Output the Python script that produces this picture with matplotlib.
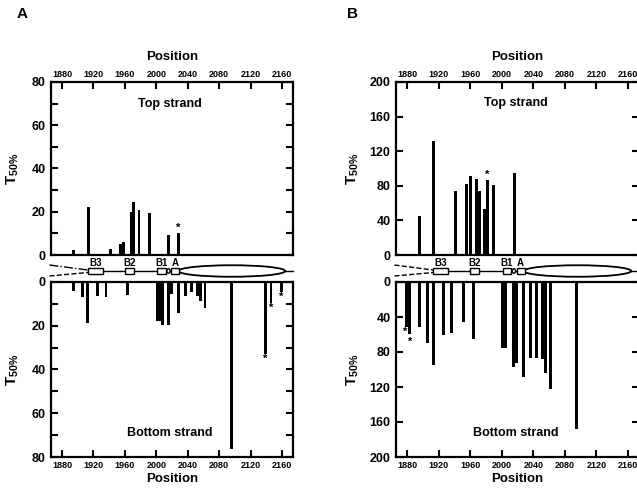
import matplotlib
matplotlib.use('Agg')
from matplotlib import pyplot as plt
from matplotlib.patches import Rectangle, Ellipse
from matplotlib.ticker import MultipleLocator

plt.rcParams['font.family'] = 'Liberation Sans'
plt.rcParams['font.weight'] = 'bold'
plt.rcParams['mathtext.fontset'] = 'custom'
plt.rcParams['mathtext.rm'] = 'Liberation Sans:bold'
plt.rcParams['mathtext.bf'] = 'Liberation Sans:bold'

# panel A, top strand
a_top_pos = [1895, 1914, 1942, 1955, 1958, 1968, 1971, 1978, 1991, 2016, 2028]
a_top_val = [2.3, 22, 3, 5, 6, 20, 24.5, 21, 19.5, 9.3, 10]
a_top_star_pos = [2028]
a_top_star_val = [12.5]

# panel A, bottom strand
a_bot_pos = [1895, 1906, 1913, 1925, 1936, 1963, 2001, 2004, 2008, 2015, 2019,
             2028, 2037, 2045, 2053, 2056, 2062, 2096, 2139, 2146, 2159]
a_bot_val = [4.3, 6.9, 18.8, 6.6, 6.9, 5.8, 17.7, 18, 19.6, 19.7, 5.5,
             14, 6.3, 4.8, 6.4, 8.8, 11.8, 76.4, 33, 9.6, 4.6]
a_bot_star_pos = [2139, 2146, 2159.5]
a_bot_star_val = [35.3, 11.9, 7.0]

# panel B, top strand
b_top_pos = [1896, 1914, 1942, 1955, 1960, 1968, 1972, 1978, 1982, 1990, 2016]
b_top_val = [45.4, 131.5, 73.5, 82, 91, 88, 74, 53.5, 86.5, 80.8, 95.2]
b_top_star_pos = [1982]
b_top_star_val = [93]

# panel B, bottom strand
b_bot_pos = [1879, 1883, 1896, 1906, 1914, 1926, 1936, 1951, 1964, 2001, 2005,
             2015, 2019, 2027, 2036, 2044, 2052, 2056, 2062, 2095]
b_bot_val = [52, 59, 52, 70, 95, 61, 58, 46, 65, 76, 76,
             97, 93, 109, 87, 87, 87.5, 104.5, 122, 168.4]
b_bot_star_pos = [1877.5, 1884]
b_bot_star_val = [57, 68]

# gene map elements (start, end, label)
boxes = [(1913, 1932, 'B3'), (1960, 1971, 'B2'), (2001, 2012, 'B1'), (2019, 2029, 'A')]
x_ticks = [1880, 1920, 1960, 2000, 2040, 2080, 2120, 2160]

W, H = 637, 490
fig = plt.figure(figsize=(W / 100, H / 100), dpi=100)


def px_axes(x0, y0, x1, y1):
    return fig.add_axes([x0 / W, 1 - y1 / H, (x1 - x0) / W, (y1 - y0) / H])


def style(ax, ymax, major, minor, top):
    ax.set_xlim(1866, 2174)
    ax.set_ylim(0, ymax)
    ax.set_xticks(x_ticks)
    ax.yaxis.set_major_locator(MultipleLocator(major))
    ax.yaxis.set_minor_locator(MultipleLocator(minor))
    for s in ax.spines.values():
        s.set_linewidth(1.6)
    ax.tick_params(axis='y', which='both', direction='in', left=True, right=True,
                   length=5, width=1.5, labelsize=9, pad=4)
    if top:
        ax.tick_params(axis='x', direction='in', top=True, bottom=False,
                       labeltop=True, labelbottom=False, length=5, width=1.5,
                       labelsize=6.5, pad=2)
        ax.xaxis.set_label_position('top')
    else:
        ax.invert_yaxis()
        ax.tick_params(axis='x', direction='in', top=False, bottom=True,
                       length=5, width=1.5, labelsize=6.5, pad=3)
    ax.set_xlabel('Position', fontsize=9.5, fontweight='bold', labelpad=7 if top else 2)
    ax.set_ylabel(r'$\mathrm{T_{50\%}}$', fontsize=11)


def bars(ax, pos, val, spos, sval):
    ax.bar(pos, val, width=3.8, color='black', linewidth=0)
    for x, y in zip(spos, sval):
        ax.text(x, y, '*', ha='center', va='center', fontsize=8, fontweight='bold')


def gene(ax, top_ls):
    ax.set_xlim(1866, 2174)
    ax.set_ylim(0, 26)
    ax.axis('off')
    ax.plot([1864, 1913], [18, 13], color='black', ls=top_ls, lw=1, clip_on=False)
    ax.plot([1864, 1913], [7, 10.5], color='black', ls='--', lw=1, clip_on=False)
    ax.plot([1913, 2174], [12, 12], color='black', lw=1, clip_on=False)
    ax.add_patch(Ellipse((2096, 12), 136, 11.5, fc='white', ec='black', lw=1.3, zorder=2))
    ax.add_patch(Ellipse((2015.5, 12), 4, 4.5, fc='white', ec='black', lw=1, zorder=3))
    for x0, x1, lab in boxes:
        ax.add_patch(Rectangle((x0, 9.2), x1 - x0, 5.6, fc='white', ec='black', lw=1, zorder=3))
        ax.text((x0 + x1) / 2, 20.5, lab, ha='center', va='center', fontsize=7, fontweight='bold')


# panel A
ax = px_axes(51, 82, 293, 255)
style(ax, 80, 20, 10, True)
bars(ax, a_top_pos, a_top_val, a_top_star_pos, a_top_star_val)
ax.text(0.49, 0.873, 'Top strand', transform=ax.transAxes, ha='center', va='center',
        fontsize=9, fontweight='bold')
ax.yaxis.set_label_coords(-0.125, 0.5)

ax = px_axes(51, 282, 293, 457)
style(ax, 80, 20, 10, False)
bars(ax, a_bot_pos, a_bot_val, a_bot_star_pos, a_bot_star_val)
ax.text(0.49, 0.139, 'Bottom strand', transform=ax.transAxes, ha='center', va='center',
        fontsize=9, fontweight='bold')
ax.yaxis.set_label_coords(-0.125, 0.5)

gene(px_axes(51, 257, 293, 283), '-.')

# panel B
ax = px_axes(396, 82, 639, 255)
style(ax, 200, 40, 40, True)
bars(ax, b_top_pos, b_top_val, b_top_star_pos, b_top_star_val)
ax.text(0.493, 0.877, 'Top strand', transform=ax.transAxes, ha='center', va='center',
        fontsize=9, fontweight='bold')
ax.yaxis.set_label_coords(-0.145, 0.5)

ax = px_axes(396, 282, 639, 457)
style(ax, 200, 40, 40, False)
bars(ax, b_bot_pos, b_bot_val, b_bot_star_pos, b_bot_star_val)
ax.text(0.493, 0.139, 'Bottom strand', transform=ax.transAxes, ha='center', va='center',
        fontsize=9, fontweight='bold')
ax.yaxis.set_label_coords(-0.145, 0.5)

gene(px_axes(396, 257, 639, 283), '--')

fig.text(22 / W, 1 - 14 / H, 'A', ha='center', va='center', fontsize=11, fontweight='bold')
fig.text(352 / W, 1 - 14 / H, 'B', ha='center', va='center', fontsize=11, fontweight='bold')

fig.savefig('out.png', dpi=100)
